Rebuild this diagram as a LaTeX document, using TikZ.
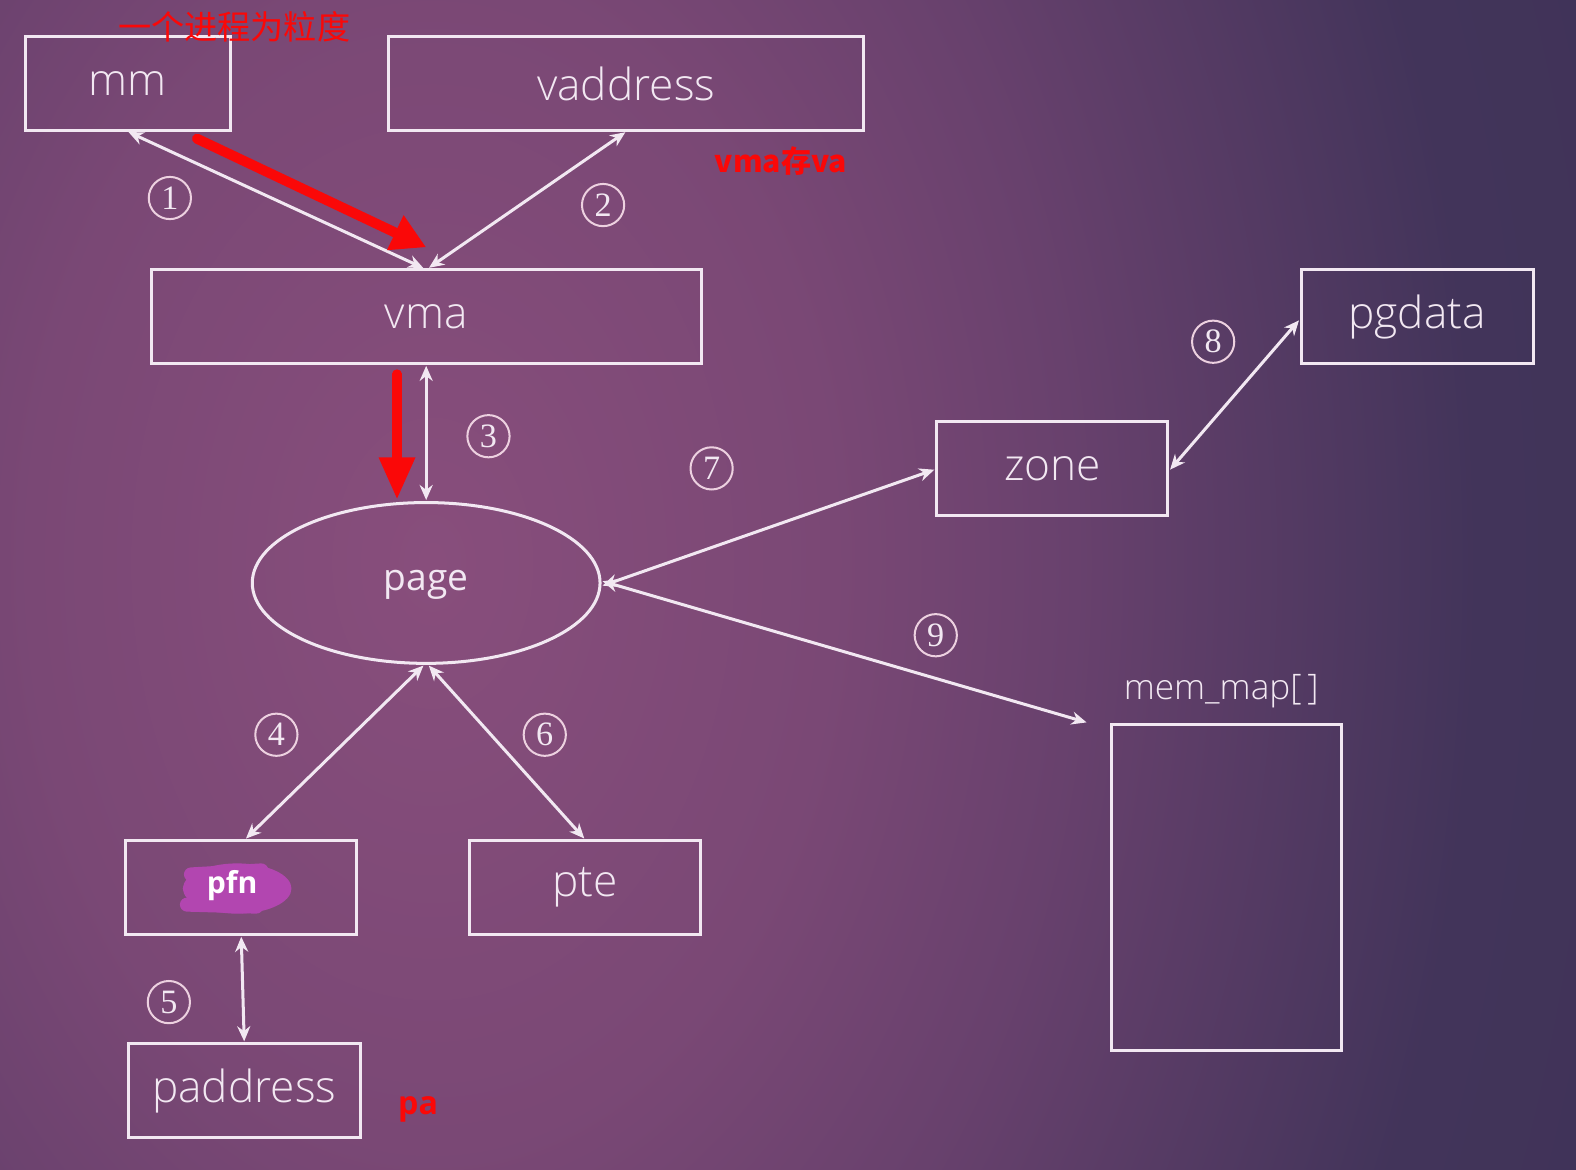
\documentclass[tikz,border=0pt]{standalone}
\usepackage{fontspec}
\setmainfont{Open Sans}
\newfontfamily\lab{Open Sans Light}
\newfontfamily\cjk{Noto Sans CJK SC}
\newfontfamily\numf{Liberation Serif}
\usetikzlibrary{arrows.meta,shapes.geometric}
\definecolor{bgA}{RGB}{136,78,124}
\definecolor{bgB}{RGB}{122,72,117}
\definecolor{bgC}{RGB}{104,65,109}
\definecolor{bgD}{RGB}{66,52,90}
\definecolor{bgE}{RGB}{56,48,82}
\definecolor{ln}{RGB}{242,232,242}
\definecolor{blob}{RGB}{178,70,176}
\definecolor{redx}{RGB}{250,8,8}
\pgfdeclareradialshading{bgshade}{\pgfpoint{0bp}{0bp}}{color(0bp)=(bgA); color(5bp)=(bgB); color(8bp)=(bgC); color(13bp)=(bgD); color(25bp)=(bgE); color(50bp)=(bgE)}
\tikzset{
  box/.style={draw=ln, line width=3pt, rectangle, inner sep=0pt, text=ln, font=\lab\fontsize{44}{50}\selectfont},
  conn/.style={draw=ln, line width=3pt, {Stealth[length=15pt,width=13pt]}-{Stealth[length=15pt,width=13pt]}, shorten <=1pt, shorten >=1pt},
  numc/.style={circle, draw=ln!90!purple, line width=2pt, minimum size=42pt, inner sep=0pt, text=ln, font=\numf\fontsize{34}{34}\selectfont},
  redarr/.style={draw=redx, line cap=round},
  redtxt/.style={text=redx, inner sep=0pt}
}
\begin{document}
\begin{tikzpicture}[x=1pt,y=-1pt]
\useasboundingbox (0,0) rectangle (1568,1164);
\fill[bgE] (0,0) rectangle (1568,1164);
\begin{scope}
\clip (0,0) rectangle (1568,1164);
\shade[shading=bgshade] (430,560) ellipse [x radius=2000, y radius=2900];
\end{scope}
% nodes
\node[box, minimum width=204pt, minimum height=93pt] (mm) at (127,83) {mm};
\node[box, minimum width=472pt, minimum height=93pt] (vaddr) at (623,83) {vaddress};
\node[box, minimum width=547pt, minimum height=93pt] (vma) at (424,315) {vma};
\node[box, minimum width=231pt, minimum height=93pt] (pgdata) at (1410,315) {pgdata};
\node[box, minimum width=230pt, minimum height=93pt] (zone) at (1047,466) {zone};
\node[box, ellipse, minimum width=346pt, minimum height=160pt] (page) at (424,580) {};
\node[box, minimum width=230pt, minimum height=93pt] (pfn) at (240,883) {};
\node[box, minimum width=230pt, minimum height=93pt] (pte) at (582,883) {pte};
\node[box, minimum width=231pt, minimum height=93pt] (paddr) at (243,1085) {paddress};
\node[box, minimum width=229pt, minimum height=325pt] (memmap) at (1220,883) {};
\node[text=ln, inner sep=0pt, font=\lab\fontsize{35}{40}\selectfont] (memlbl) at (1215,688) {mem\_map[\,]};
% page text
\node[text=ln, inner sep=0pt, font=\fontsize{37}{40}\selectfont] (pagetxt) at (424,582) {page};
% pfn blob
\fill[blob] (236,884) ellipse [x radius=54, y radius=25];
\draw[blob, line width=14pt, line cap=round] (190,870) -- (260,866);
\draw[blob, line width=14pt, line cap=round] (186,900) -- (255,902);
\draw[blob, line width=12pt, line cap=round] (188,884) -- (283,886);
\node[text=white, inner sep=0pt, font=\fontsize{30}{34}\selectfont\bfseries] (pfntxt) at (231,881) {pfn};
% connectors
\coordinate (mmend) at ([xshift=-22pt]memmap.north west);
\draw[conn] (mm.south) -- ([xshift=-2pt]vma.north);
\draw[conn] (vaddr.south) -- ([xshift=2pt]vma.north);
\draw[conn] (vma.south) -- (page.north);
\draw[conn] ([xshift=-2pt]page.south) -- ([xshift=4pt]pfn.north);
\draw[conn] ([xshift=2pt]page.south) -- (pte.north);
\draw[conn] (pfn.south) -- (paddr.north);
\draw[conn] ([yshift=-3pt]page.east) -- ([yshift=-1pt]zone.west);
\draw[conn] ([yshift=-2pt]zone.east) -- ([yshift=-3pt]pgdata.west);
\draw[conn] ([yshift=2pt]page.east) -- (mmend);
% circled numbers
\node[numc] (n1) at (169,197) {1};
\node[numc] (n2) at (600,204) {2};
\node[numc] (n3) at (486,434) {3};
\node[numc] (n4) at (275,731) {4};
\node[numc] (n5) at (168,997) {5};
\node[numc] (n6) at (542,731) {6};
\node[numc] (n7) at (708,466) {7};
\node[numc] (n8) at (1207,340) {8};
\node[numc] (n9) at (931,632) {9};
% red annotations
\coordinate (r1a) at (196,138);
\coordinate (r1b) at (424,246);
\coordinate (r2a) at (395,372);
\coordinate (r2b) at (395,497);
\draw[redarr, line width=10pt, -{Triangle[length=34pt,width=36pt]}] (r1a) -- (r1b);
\draw[redarr, line width=9pt, -{Triangle[length=42pt,width=34pt]}] (r2a) -- (r2b);
\node[redtxt, font=\cjk\fontsize{33}{36}\selectfont] (t1) at (233,27) {一个进程为粒度};
\node[redtxt, font=\cjk\bfseries\fontsize{30}{32}\selectfont] (t2) at (777,160) {vma存va};
\node[redtxt, font=\bfseries\fontsize{32}{34}\selectfont] (t3) at (416,1104) {pa};
\end{tikzpicture}
\end{document}
